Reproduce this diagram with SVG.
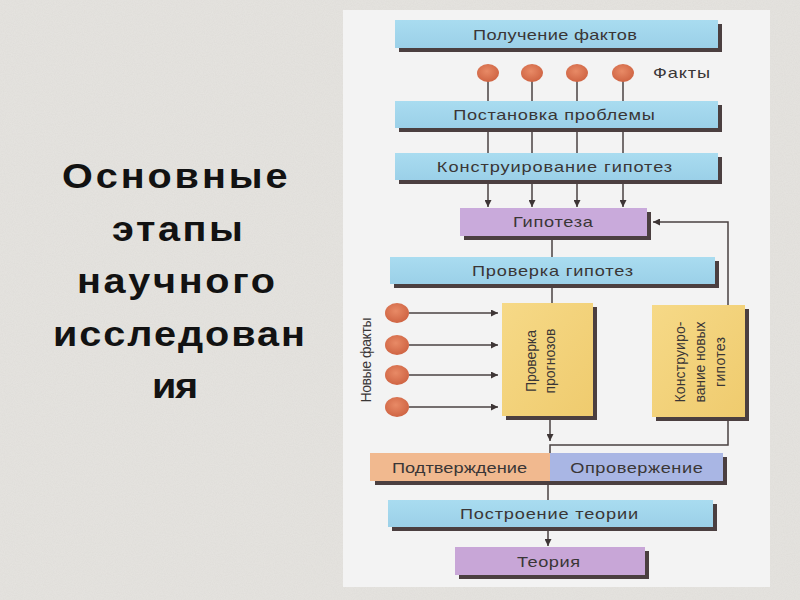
<svg xmlns="http://www.w3.org/2000/svg" width="800" height="600" viewBox="0 0 800 600">
<defs>
<style>
.lbl{font-family:"Liberation Sans",Arial,sans-serif;font-size:14px;fill:#3a3636;text-anchor:middle}
.title{font-family:"Liberation Sans",Arial,sans-serif;font-size:36px;font-weight:bold;fill:#121212}
.sh{fill:#4b3f40}
.blue{fill:url(#gBlue)}
.purp{fill:#c9aadb}
.yel{fill:url(#gYel)}
.ln{stroke:#4a4242;stroke-width:1.5;fill:none}
.dot{fill:url(#gDot)}
</style>
<linearGradient id="gBlue" x1="0" y1="0" x2="0" y2="1">
<stop offset="0" stop-color="#a9dcf0"/><stop offset="1" stop-color="#9bd0e8"/>
</linearGradient>
<linearGradient id="gYel" x1="0" y1="0" x2="1" y2="1">
<stop offset="0" stop-color="#f6d987"/><stop offset="1" stop-color="#efcb6e"/>
</linearGradient>
<radialGradient id="gDot" cx="0.45" cy="0.4" r="0.6">
<stop offset="0" stop-color="#e88a66"/><stop offset="1" stop-color="#cf6443"/>
</radialGradient>
<marker id="arr" viewBox="0 0 10 10" refX="10" refY="5" markerWidth="7" markerHeight="7" markerUnits="userSpaceOnUse" orient="auto">
<path d="M0,0 L10,5 L0,10 Z" fill="#3d3535"/>
</marker>
<filter id="noise" x="0" y="0" width="100%" height="100%">
<feTurbulence type="fractalNoise" baseFrequency="0.9" numOctaves="2" seed="3"/>
<feColorMatrix type="matrix" values="0 0 0 0 0.55  0 0 0 0 0.54  0 0 0 0 0.52  0 0 0 0.35 0"/>
<feComposite in2="SourceGraphic" operator="in"/>
</filter>
</defs>

<rect x="0" y="0" width="800" height="600" fill="#e6e4e0"/>
<rect x="0" y="0" width="800" height="600" fill="#e6e4e0" filter="url(#noise)" opacity="0.6"/>
<rect x="343" y="10" width="427" height="577" fill="#f3f3f3"/>

<g id="title">
<text class="title" transform="translate(62,188) scale(1.1,1)" textLength="205" lengthAdjust="spacing">Основные</text>
<text class="title" transform="translate(112,240.5) scale(1.1,1)" textLength="119" lengthAdjust="spacing">этапы</text>
<text class="title" transform="translate(77,293) scale(1.1,1)" textLength="180" lengthAdjust="spacing">научного</text>
<text class="title" transform="translate(53,345.5) scale(1.1,1)" textLength="229" lengthAdjust="spacing">исследован</text>
<text class="title" transform="translate(152,398) scale(1.1,1)" textLength="42" lengthAdjust="spacing">ия</text>
</g>

<g id="connectors">
<line class="ln" x1="488" y1="80" x2="488" y2="101"/>
<line class="ln" x1="532" y1="80" x2="532" y2="101"/>
<line class="ln" x1="577" y1="80" x2="577" y2="101"/>
<line class="ln" x1="623" y1="80" x2="623" y2="101"/>
<line class="ln" x1="488" y1="130" x2="488" y2="153"/>
<line class="ln" x1="532" y1="130" x2="532" y2="153"/>
<line class="ln" x1="577" y1="130" x2="577" y2="153"/>
<line class="ln" x1="623" y1="130" x2="623" y2="153"/>
<line class="ln" x1="488" y1="183" x2="488" y2="207" marker-end="url(#arr)"/>
<line class="ln" x1="532" y1="183" x2="532" y2="207" marker-end="url(#arr)"/>
<line class="ln" x1="577" y1="183" x2="577" y2="207" marker-end="url(#arr)"/>
<line class="ln" x1="623" y1="183" x2="623" y2="207" marker-end="url(#arr)"/>
<line class="ln" x1="552" y1="238" x2="552" y2="257"/>
<line class="ln" x1="552" y1="285" x2="552" y2="303"/>
<line class="ln" x1="550" y1="418" x2="550" y2="441" marker-end="url(#arr)"/>
<polyline class="ln" points="728,419 728,445 550,445 550,453"/>
<polyline class="ln" points="728,305 728,222 653,222" marker-end="url(#arr)"/>
<line class="ln" x1="409" y1="313" x2="498" y2="313" marker-end="url(#arr)" stroke="#5e4f63"/>
<line class="ln" x1="409" y1="345" x2="498" y2="345" marker-end="url(#arr)" stroke="#5e4f63"/>
<line class="ln" x1="409" y1="375" x2="498" y2="375" marker-end="url(#arr)" stroke="#5e4f63"/>
<line class="ln" x1="409" y1="407" x2="498" y2="407" marker-end="url(#arr)" stroke="#5e4f63"/>
<line class="ln" x1="548" y1="483" x2="548" y2="500"/>
<line class="ln" x1="548" y1="530" x2="548" y2="546" marker-end="url(#arr)"/>
</g>

<g id="poluchenie">
<rect class="sh" x="399" y="24" width="323" height="28"/>
<rect class="blue" x="395" y="20" width="323" height="28"/>
<text class="lbl" transform="translate(555,39.5) scale(1.3,1)" textLength="126" lengthAdjust="spacing">Получение фактов</text>
</g>

<g id="fakty">
<ellipse class="dot" cx="488" cy="73" rx="11" ry="9"/>
<ellipse class="dot" cx="532" cy="73" rx="11" ry="9"/>
<ellipse class="dot" cx="577" cy="73" rx="11" ry="9"/>
<ellipse class="dot" cx="623" cy="73" rx="11" ry="9"/>
<text class="lbl" transform="translate(681.5,78) scale(1.3,1)" textLength="44" lengthAdjust="spacing">Факты</text>
</g>

<g id="postanovka">
<rect class="sh" x="399" y="105" width="323" height="27"/>
<rect class="blue" x="395" y="101" width="323" height="27"/>
<text class="lbl" transform="translate(554,120) scale(1.3,1)" textLength="155" lengthAdjust="spacing">Постановка проблемы</text>
</g>

<g id="konstruirovanie">
<rect class="sh" x="399" y="157" width="323" height="27"/>
<rect class="blue" x="395" y="153" width="323" height="27"/>
<text class="lbl" transform="translate(554.5,172) scale(1.3,1)" textLength="181" lengthAdjust="spacing">Конструирование гипотез</text>
</g>

<g id="gipoteza">
<rect class="sh" x="464" y="212" width="187" height="28"/>
<rect class="purp" x="460" y="208" width="187" height="28"/>
<text class="lbl" transform="translate(553,227) scale(1.3,1)" textLength="61.5" lengthAdjust="spacing">Гипотеза</text>
</g>

<g id="proverka-gipotez">
<rect class="sh" x="394" y="261" width="325" height="27"/>
<rect class="blue" x="390" y="257" width="325" height="27"/>
<text class="lbl" transform="translate(552.5,275.5) scale(1.3,1)" textLength="124" lengthAdjust="spacing">Проверка гипотез</text>
</g>

<g id="novye-fakty">
<ellipse class="dot" cx="397" cy="313" rx="12" ry="10"/>
<ellipse class="dot" cx="397" cy="345" rx="12" ry="10"/>
<ellipse class="dot" cx="397" cy="375" rx="12" ry="10"/>
<ellipse class="dot" cx="397" cy="407" rx="12" ry="10"/>
<text class="lbl" transform="translate(371,360) rotate(-90)" textLength="85" lengthAdjust="spacing">Новые факты</text>
</g>

<g id="proverka-prognozov">
<rect class="sh" x="506" y="307" width="91" height="113"/>
<rect class="yel" x="502" y="303" width="91" height="113"/>
<text class="lbl" transform="translate(536,361) rotate(-90)" textLength="62" lengthAdjust="spacing">Проверка</text>
<text class="lbl" transform="translate(555,361) rotate(-90)" textLength="65" lengthAdjust="spacing">прогнозов</text>
</g>

<g id="konstruirovanie-novyh">
<rect class="sh" x="656" y="309" width="93" height="112"/>
<rect class="yel" x="652" y="305" width="93" height="112"/>
<text class="lbl" transform="translate(685,362) rotate(-90)" textLength="81" lengthAdjust="spacing">Конструиро-</text>
<text class="lbl" transform="translate(705,362) rotate(-90)" textLength="81" lengthAdjust="spacing">вание новых</text>
<text class="lbl" transform="translate(725,362) rotate(-90)" textLength="50" lengthAdjust="spacing">гипотез</text>
</g>

<g id="podtverzhdenie">
<rect class="sh" x="375" y="457" width="352" height="28"/>
<rect x="370" y="453" width="180" height="28" fill="#f1b98f"/>
<text class="lbl" transform="translate(459.5,473) scale(1.3,1)" textLength="104" lengthAdjust="spacing">Подтверждение</text>
</g>

<g id="oproverzhenie">
<rect x="550" y="453" width="173" height="28" fill="#a9b6e4"/>
<text class="lbl" transform="translate(636.5,473) scale(1.3,1)" textLength="102" lengthAdjust="spacing">Опровержение</text>
</g>

<g id="postroenie-teorii">
<rect class="sh" x="392" y="504" width="325" height="27"/>
<rect class="blue" x="388" y="500" width="325" height="27"/>
<text class="lbl" transform="translate(549,519) scale(1.3,1)" textLength="137" lengthAdjust="spacing">Построение теории</text>
</g>

<g id="teoriya">
<rect class="sh" x="459" y="551" width="190" height="28"/>
<rect x="455" y="547" width="190" height="28" fill="#c8a6d7"/>
<text class="lbl" transform="translate(548.5,566.5) scale(1.3,1)" textLength="48.5" lengthAdjust="spacing">Теория</text>
</g>
</svg>
